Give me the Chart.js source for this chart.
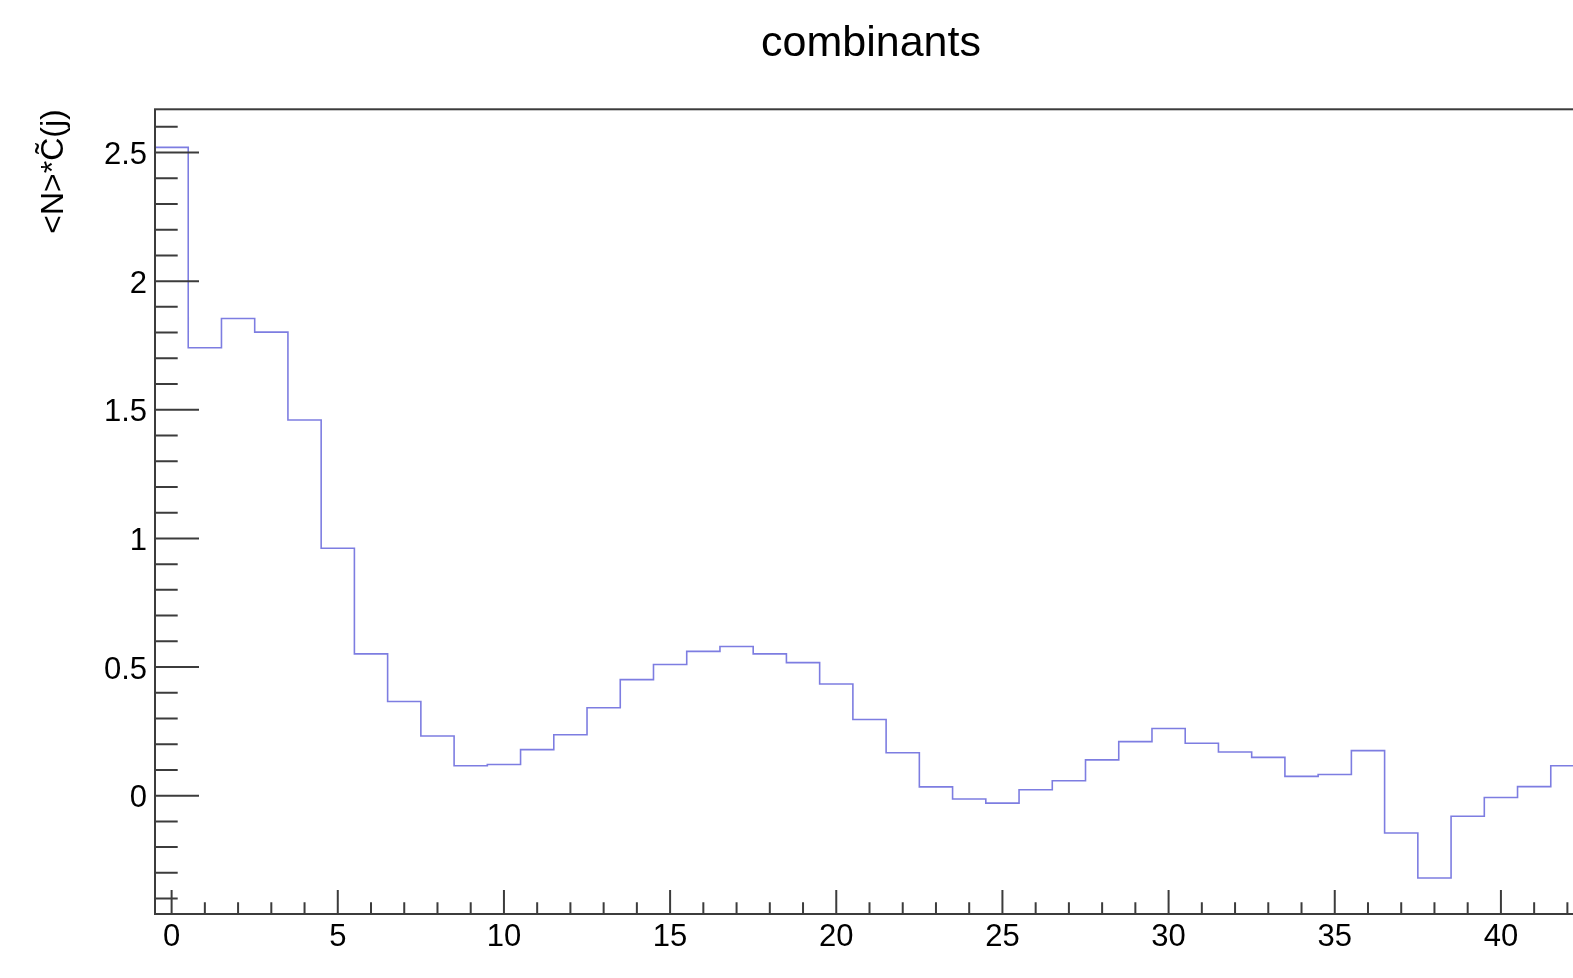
<!DOCTYPE html>
<html>
<head>
<meta charset="utf-8">
<title>combinants</title>
<script src="https://cdn.jsdelivr.net/npm/chart.js@4.4.1/dist/chart.umd.min.js"></script>
<style>
  html, body { margin: 0; padding: 0; overflow: hidden; background: #ffffff; }
  #wrap { width: 1742px; height: 978px; }
</style>
</head>
<body>
<div id="wrap"><canvas id="chart" width="1742" height="978"></canvas></div>
<script>
// Bin centres j of the histogram (unit-width bins)
const binCenters = [
  0, 1, 2, 3, 4, 5, 6, 7, 8, 9,
  10, 11, 12, 13, 14, 15, 16, 17, 18, 19,
  20, 21, 22, 23, 24, 25, 26, 27, 28, 29,
  30, 31, 32, 33, 34, 35, 36, 37, 38, 39,
  40, 41, 42
];

// <N>*C~(j) per bin
const combinants = [
  2.520, 1.741, 1.855, 1.802, 1.460, 0.962, 0.551, 0.366, 0.232, 0.116,
  0.121, 0.179, 0.237, 0.342, 0.451, 0.510, 0.561, 0.580, 0.551, 0.517,
  0.434, 0.296, 0.167, 0.034, -0.013, -0.029, 0.023, 0.058, 0.139, 0.210,
  0.261, 0.204, 0.170, 0.149, 0.075, 0.082, 0.175, -0.145, -0.320, -0.080,
  -0.007, 0.035, 0.116
];

// Labelled axis ticks
const xMajorTicks = [0, 5, 10, 15, 20, 25, 30, 35, 40];
const yMajorTicks = [0, 0.5, 1, 1.5, 2, 2.5];

// Histogram outline: one point on the left edge of every bin, plus the right edge of the last bin
const half = 0.5;
const stepPoints = binCenters.map((c, i) => ({ x: c - half, y: combinants[i] }));
stepPoints.push({ x: binCenters[binCenters.length - 1] + half, y: combinants[combinants.length - 1] });

const FONT = 'Liberation Sans, Arial, Helvetica, sans-serif';
const AXIS_COLOR = '#3c3c3c';

// Frame plus inward-pointing major/minor tick marks, placed through the chart scales
const frameAndTicks = {
  id: 'frameAndTicks',
  afterDatasetsDraw(chart) {
    const { ctx, chartArea, scales } = chart;
    const { left, top, right, bottom } = chartArea;
    const xs = scales.x, ys = scales.y;
    ctx.save();
    ctx.strokeStyle = AXIS_COLOR;
    ctx.lineWidth = 2;
    ctx.strokeRect(left, top, right - left, bottom - top);

    ctx.beginPath();
    // x: minor tick every unit, major every 5
    for (let v = Math.ceil(xs.min); v <= xs.max; v += 1) {
      const px = xs.getPixelForValue(v);
      const len = (v % 5 === 0) ? 24 : 11.7;
      ctx.moveTo(px, bottom);
      ctx.lineTo(px, bottom - len);
    }
    // y: minor tick every 0.1, major every 0.5
    const kMin = Math.ceil(ys.min * 10 - 1e-9), kMax = Math.floor(ys.max * 10 + 1e-9);
    for (let k = kMin; k <= kMax; k++) {
      const py = ys.getPixelForValue(k / 10);
      const len = (k % 5 === 0) ? 44 : 22.7;
      ctx.moveTo(left, py);
      ctx.lineTo(left + len, py);
    }
    ctx.stroke();
    ctx.restore();
  }
};

new Chart(document.getElementById('chart'), {
  type: 'line',
  data: {
    datasets: [{
      data: stepPoints,
      stepped: true,
      borderColor: 'rgb(125,125,225)',
      borderWidth: 1.6,
      pointRadius: 0,
      fill: false,
      tension: 0
    }]
  },
  options: {
    responsive: false,
    animation: false,
    devicePixelRatio: 1,
    layout: { padding: 0 },
    plugins: {
      legend: { display: false },
      tooltip: { enabled: false },
      title: {
        display: true,
        text: 'combinants',
        color: '#000000',
        font: { family: FONT, size: 43, weight: 'normal', lineHeight: 1.2 },
        padding: { top: 18, bottom: 39.7 }
      }
    },
    scales: {
      x: {
        type: 'linear',
        min: -0.5,
        max: 42.5,
        grid: { display: false, drawTicks: false },
        border: { display: false },
        ticks: {
          padding: 5,
          color: '#000000',
          font: { family: FONT, size: 31, lineHeight: 1.2 },
          maxRotation: 0,
          callback: v => String(v)
        },
        afterBuildTicks: s => { s.ticks = xMajorTicks.map(v => ({ value: v })); },
        afterFit: s => { s.height = 64; }
      },
      y: {
        type: 'linear',
        position: 'left',
        min: -0.46,
        max: 2.668,
        grid: { display: false, drawTicks: false },
        border: { display: false },
        ticks: {
          padding: 8,
          labelOffset: 3,
          color: '#000000',
          font: { family: FONT, size: 31, lineHeight: 1.2 },
          callback: v => String(v)
        },
        afterBuildTicks: s => { s.ticks = yMajorTicks.map(v => ({ value: v })); },
        afterFit: s => { s.width = 155; },
        title: {
          display: true,
          text: '<N>*C\u0303(j)',
          align: 'end',
          color: '#000000',
          font: { family: FONT, size: 32, lineHeight: 1.2 },
          padding: { top: 35, bottom: 0 }
        }
      },
      // empty right-hand margin of the pad
      yMargin: {
        type: 'linear',
        position: 'right',
        grid: { display: false, drawTicks: false },
        border: { display: false },
        ticks: { display: false },
        afterFit: s => { s.width = 158; }
      }
    }
  },
  plugins: [frameAndTicks]
});
</script>
</body>
</html>
